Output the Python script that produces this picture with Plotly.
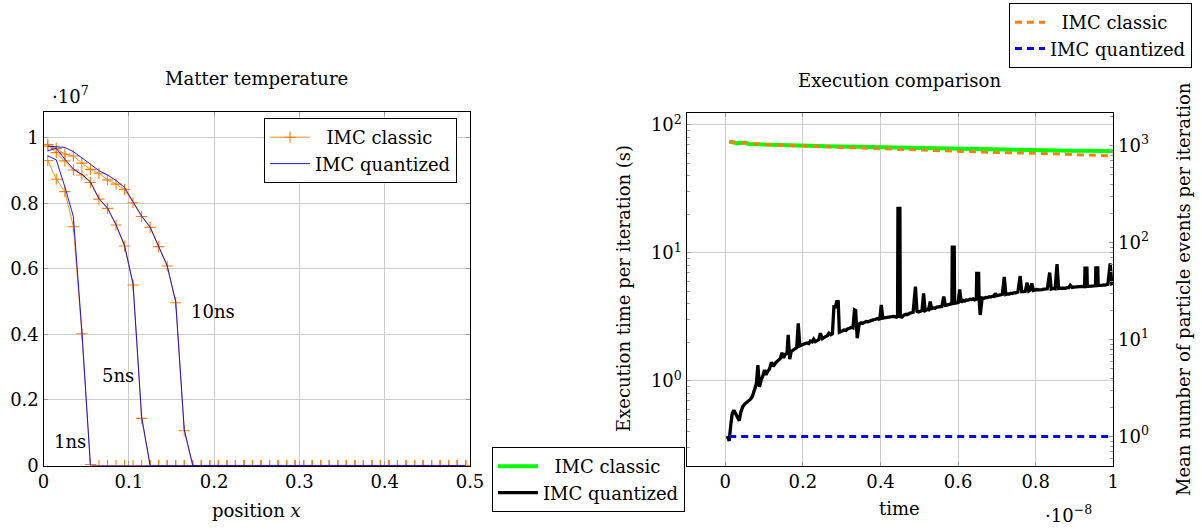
import plotly.graph_objects as go

# ---------------- Left chart: matter temperature (units of 1e7) ----------------
position = [0.005, 0.015, 0.025, 0.035, 0.045, 0.055, 0.065, 0.075, 0.085, 0.095,
            0.105, 0.115, 0.125, 0.135, 0.145, 0.155, 0.165, 0.175, 0.185, 0.195,
            0.205, 0.215, 0.225, 0.235, 0.245, 0.255, 0.265, 0.275, 0.285, 0.295,
            0.305, 0.315, 0.325, 0.335, 0.345, 0.355, 0.365, 0.375, 0.385, 0.395,
            0.405, 0.415, 0.425, 0.435, 0.445, 0.455, 0.465, 0.475, 0.485, 0.495]

classic_1ns = [0.931, 0.874, 0.836, 0.729, 0.402, 0.003, 0, 0, 0, 0,
               0, 0, 0, 0, 0, 0, 0, 0, 0, 0, 0, 0, 0, 0, 0, 0, 0, 0, 0, 0,
               0, 0, 0, 0, 0, 0, 0, 0, 0, 0, 0, 0, 0, 0, 0, 0, 0, 0, 0, 0]
classic_5ns = [0.980, 0.955, 0.930, 0.902, 0.887, 0.864, 0.813, 0.785, 0.734, 0.670,
               0.551, 0.144, 0, 0, 0, 0, 0, 0, 0, 0, 0, 0, 0, 0, 0, 0, 0, 0, 0, 0,
               0, 0, 0, 0, 0, 0, 0, 0, 0, 0, 0, 0, 0, 0, 0, 0, 0, 0, 0, 0]
classic_10ns = [0.975, 0.968, 0.951, 0.945, 0.923, 0.904, 0.892, 0.872, 0.859, 0.843,
                0.802, 0.760, 0.727, 0.668, 0.609, 0.497, 0.106, 0, 0, 0,
                0, 0, 0, 0, 0, 0, 0, 0, 0, 0, 0, 0, 0, 0, 0, 0, 0, 0, 0, 0,
                0, 0, 0, 0, 0, 0, 0, 0, 0, 0]

quant_1ns = [0.945, 0.933, 0.851, 0.760, 0.410, 0.0, 0, 0, 0, 0,
             0, 0, 0, 0, 0, 0, 0, 0, 0, 0, 0, 0, 0, 0, 0, 0, 0, 0, 0, 0,
             0, 0, 0, 0, 0, 0, 0, 0, 0, 0, 0, 0, 0, 0, 0, 0, 0, 0, 0, 0]
quant_5ns = [0.961, 0.968, 0.935, 0.905, 0.889, 0.866, 0.815, 0.786, 0.735, 0.672,
             0.555, 0.150, 0, 0, 0, 0, 0, 0, 0, 0, 0, 0, 0, 0, 0, 0, 0, 0, 0, 0,
             0, 0, 0, 0, 0, 0, 0, 0, 0, 0, 0, 0, 0, 0, 0, 0, 0, 0, 0, 0]
quant_10ns = [0.975, 0.972, 0.971, 0.958, 0.940, 0.920, 0.900, 0.887, 0.870, 0.849,
              0.805, 0.762, 0.728, 0.670, 0.610, 0.500, 0.110, 0, 0, 0,
              0, 0, 0, 0, 0, 0, 0, 0, 0, 0, 0, 0, 0, 0, 0, 0, 0, 0, 0, 0,
              0, 0, 0, 0, 0, 0, 0, 0, 0, 0]

snapshot_labels = ["1ns", "5ns", "10ns"]
snapshot_label_x = [0.031, 0.087, 0.199]
snapshot_label_y = [0.072, 0.275, 0.47]

# ---------------- Right chart: execution comparison (time in units of 1e-8) ----------------
t_classic = [0.01, 0.03, 0.05, 0.06, 0.08, 0.10, 0.14, 0.18, 0.22, 0.26, 0.30, 0.34,
             0.38, 0.42, 0.46, 0.50, 0.54, 0.58, 0.62, 0.66, 0.70, 0.74, 0.78, 0.82,
             0.86, 0.90, 0.94, 0.98, 1.00]
time_classic = [74.1, 71.9, 73.0, 71.1, 70.6, 70.2, 69.8, 69.4, 68.8, 68.2, 67.8, 67.4,
                67.0, 66.6, 66.2, 65.8, 65.3, 65.0, 64.8, 64.5, 64.2, 64.0, 63.8, 63.6,
                63.3, 63.0, 62.8, 62.5, 62.3]

t_events = [0.01, 0.05, 0.10, 0.20, 0.30, 0.40, 0.50, 0.60, 0.70, 0.80, 0.90, 1.00]
events_classic = [1099, 1070, 1030, 990, 960, 925, 895, 868, 850, 835, 808, 785]
events_quantized = [1, 1, 1, 1, 1, 1, 1, 1, 1, 1, 1, 1]

t_quant = [0.005, 0.010, 0.014, 0.018, 0.022, 0.027, 0.032, 0.036, 0.040, 0.045,
           0.050, 0.055, 0.060, 0.065, 0.070, 0.075, 0.080, 0.084, 0.088, 0.093,
           0.097, 0.101, 0.105, 0.110, 0.114, 0.119, 0.124, 0.129, 0.133, 0.138,
           0.142, 0.146, 0.150, 0.155, 0.159, 0.162, 0.166, 0.170, 0.175, 0.179,
           0.184, 0.188, 0.192, 0.197, 0.201, 0.206, 0.210, 0.215, 0.219, 0.224,
           0.228, 0.232, 0.237, 0.241, 0.245, 0.250, 0.254, 0.259, 0.263, 0.267,
           0.272, 0.276, 0.280, 0.284, 0.287, 0.291, 0.294, 0.298, 0.302, 0.306,
           0.311, 0.315, 0.320, 0.324, 0.329, 0.333, 0.336, 0.340, 0.345, 0.350,
           0.354, 0.358, 0.363, 0.367, 0.372, 0.376, 0.381, 0.385, 0.390, 0.394,
           0.398, 0.402, 0.406, 0.411, 0.415, 0.420, 0.424, 0.428, 0.433, 0.437,
           0.441, 0.444, 0.445, 0.450, 0.451, 0.455, 0.461, 0.466, 0.470, 0.475,
           0.479, 0.484, 0.490, 0.494, 0.498, 0.503, 0.507, 0.511, 0.515, 0.520,
           0.524, 0.528, 0.532, 0.537, 0.541, 0.545, 0.550, 0.554, 0.558, 0.563,
           0.567, 0.571, 0.576, 0.580, 0.584, 0.585, 0.590, 0.591, 0.595, 0.600,
           0.604, 0.608, 0.613, 0.617, 0.621, 0.626, 0.630, 0.634, 0.639, 0.643,
           0.647, 0.648, 0.653, 0.654, 0.657, 0.662, 0.667, 0.671, 0.676, 0.680,
           0.684, 0.689, 0.693, 0.696, 0.700, 0.705, 0.709, 0.714, 0.719, 0.723,
           0.727, 0.732, 0.736, 0.740, 0.745, 0.749, 0.754, 0.760, 0.764, 0.769,
           0.773, 0.778, 0.782, 0.786, 0.790, 0.794, 0.799, 0.803, 0.808, 0.812,
           0.816, 0.821, 0.825, 0.830, 0.836, 0.840, 0.845, 0.850, 0.855, 0.859,
           0.863, 0.868, 0.872, 0.877, 0.881, 0.885, 0.889, 0.894, 0.898, 0.902,
           0.907, 0.911, 0.915, 0.920, 0.926, 0.927, 0.932, 0.933, 0.937, 0.941,
           0.945, 0.950, 0.954, 0.955, 0.960, 0.961, 0.965, 0.968, 0.972, 0.977,
           0.981, 0.986, 0.992, 0.996, 1.000]
time_quantized = [0.37, 0.34, 0.45, 0.56, 0.59, 0.55, 0.51, 0.49, 0.57, 0.63,
                  0.66, 0.68, 0.70, 0.72, 0.76, 0.85, 0.95, 1.33, 0.90, 1.03,
                  1.10, 1.22, 1.12, 1.20, 1.24, 1.40, 1.30, 1.38, 1.42, 1.45,
                  1.50, 1.66, 1.52, 1.62, 1.64, 2.29, 1.48, 1.70, 1.74, 1.78,
                  1.82, 2.82, 1.88, 1.91, 1.93, 1.95, 1.98, 1.96, 2.05, 2.02,
                  2.12, 2.03, 2.08, 2.10, 2.36, 2.14, 2.18, 2.22, 2.26, 2.36,
                  2.30, 2.34, 3.80, 3.80, 4.17, 4.17, 2.40, 2.43, 2.46, 2.50,
                  2.48, 2.55, 2.58, 2.62, 2.60, 3.59, 3.55, 2.16, 2.80, 2.85,
                  2.82, 2.88, 2.92, 2.90, 2.95, 2.97, 3.00, 3.02, 3.05, 3.08,
                  3.00, 3.92, 3.10, 3.12, 3.15, 3.13, 3.18, 3.16, 3.20, 3.18,
                  3.15, 3.20, 22.3, 22.3, 3.18, 3.15, 3.28, 3.32, 3.30, 3.38,
                  3.40, 3.44, 5.45, 3.50, 3.46, 3.52, 3.55, 4.84, 3.55, 3.62,
                  3.60, 4.17, 3.68, 3.72, 3.70, 3.78, 3.80, 3.85, 3.82, 4.56,
                  3.90, 3.92, 3.98, 4.00, 4.02, 11.1, 11.1, 4.05, 4.05, 4.10,
                  5.20, 4.12, 4.25, 4.20, 4.30, 4.28, 4.35, 4.32, 4.38, 4.30,
                  4.35, 6.94, 6.94, 4.40, 3.28, 4.45, 4.42, 4.50, 4.48, 4.55,
                  4.52, 4.60, 4.58, 4.84, 4.65, 4.70, 4.68, 4.75, 6.50, 4.75,
                  4.80, 4.78, 4.85, 4.82, 4.90, 4.88, 4.95, 6.60, 4.98, 5.02,
                  5.00, 5.86, 5.05, 5.14, 5.80, 5.10, 5.15, 5.18, 5.15, 5.20,
                  5.18, 5.22, 5.20, 5.25, 7.03, 5.22, 5.28, 5.25, 8.20, 5.28,
                  5.30, 5.28, 5.32, 5.30, 5.38, 5.35, 5.60, 5.38, 5.40, 5.42,
                  5.40, 5.45, 5.43, 5.48, 5.46, 7.60, 7.60, 5.50, 5.48, 5.50,
                  5.52, 5.55, 5.54, 7.66, 7.66, 5.58, 5.56, 5.58, 5.60, 5.62,
                  5.65, 5.68, 8.30, 5.75, 5.80]

x_ticks_left = [0, 0.1, 0.2, 0.3, 0.4, 0.5]
x_ticktext_left = ["0", "0.1", "0.2", "0.3", "0.4", "0.5"]
y_ticks_left = [0, 0.2, 0.4, 0.6, 0.8, 1.0]
y_ticktext_left = ["0", "0.2", "0.4", "0.6", "0.8", "1"]
x_ticks_right = [0, 0.2, 0.4, 0.6, 0.8, 1.0]
x_ticktext_right = ["0", "0.2", "0.4", "0.6", "0.8", "1"]
time_ticks = [1, 10, 100]
time_ticktext = ["10<sup>0</sup>", "10<sup>1</sup>", "10<sup>2</sup>"]
event_ticks = [1, 10, 100, 1000]
event_ticktext = ["10<sup>0</sup>", "10<sup>1</sup>", "10<sup>2</sup>", "10<sup>3</sup>"]
time_minor = [0.3, 0.4, 0.5, 0.6, 0.7, 0.8, 0.9, 2, 3, 4, 5, 6, 7, 8, 9,
              20, 30, 40, 50, 60, 70, 80, 90]
event_minor = [0.6, 0.7, 0.8, 0.9, 2, 3, 4, 5, 6, 7, 8, 9, 20, 30, 40, 50, 60, 70, 80, 90,
               200, 300, 400, 500, 600, 700, 800, 900, 2000]

# ---------------- styling ----------------
W, H = 1202, 529
FONT = "DejaVu Serif"
FS = 18
ORANGE = "rgb(255,128,0)"
BLUE = "rgb(0,0,255)"
GREEN = "rgb(0,255,0)"
GRID = "#cccccc"
TICKC = "#9a9a9a"
NB = "\u00a0\u00a0"


def px_x(p):
    return p / W


def px_y(p):
    return 1 - p / H


fig = go.Figure()

for i, vals_c in enumerate([classic_1ns, classic_5ns, classic_10ns]):
    fig.add_trace(go.Scatter(
        x=position, y=vals_c, mode="lines+markers", name=NB + "IMC classic",
        line=dict(color=ORANGE, width=0.9),
        marker=dict(symbol="cross-thin", size=8, line=dict(color=ORANGE, width=1.1)),
        showlegend=(i == 0), legend="legend", xaxis="x", yaxis="y"))
for i, vals_q in enumerate([quant_1ns, quant_5ns, quant_10ns]):
    fig.add_trace(go.Scatter(
        x=position, y=vals_q, mode="lines", name="IMC quantized",
        line=dict(color=BLUE, width=0.9),
        showlegend=(i == 0), legend="legend", xaxis="x", yaxis="y"))

fig.add_trace(go.Scatter(x=t_classic, y=time_classic, mode="lines", name=NB + "IMC classic",
                         line=dict(color=GREEN, width=4), legend="legend2",
                         xaxis="x2", yaxis="y2"))
fig.add_trace(go.Scatter(x=t_quant, y=time_quantized, mode="lines", name="IMC quantized",
                         line=dict(color="black", width=3.3), legend="legend2",
                         xaxis="x2", yaxis="y2"))
fig.add_trace(go.Scatter(x=t_events, y=events_classic, mode="lines", name=NB + "IMC classic",
                         line=dict(color=ORANGE, width=3, dash="7px,5px"), legend="legend3",
                         xaxis="x2", yaxis="y3"))
fig.add_trace(go.Scatter(x=t_events, y=events_quantized, mode="lines", name="IMC quantized",
                         line=dict(color=BLUE, width=3, dash="7px,5px"), legend="legend3",
                         xaxis="x2", yaxis="y3"))

TICKFONT = dict(family=FONT, size=FS, color="black")
axis_common = dict(showline=True, linecolor="black", linewidth=1.2,
                   ticks="inside", ticklen=4, tickcolor=TICKC, tickwidth=1,
                   showgrid=True, gridcolor=GRID, gridwidth=1, zeroline=False,
                   automargin=False, tickfont=TICKFONT)

L_X0, L_X1 = 43.5, 470.0
L_Y0, L_Y1 = 111.7, 465.5
R_X0, R_X1 = 686.5, 1113.3
R_Y0, R_Y1 = 112.7, 465.7

LEG = dict(xanchor="left", yanchor="top", bgcolor="white", bordercolor="black",
           borderwidth=1, font=dict(family=FONT, size=FS, color="black"))

fig.update_layout(
    width=W, height=H, autosize=False,
    margin=dict(l=0, r=0, t=0, b=0, pad=0, autoexpand=False),
    paper_bgcolor="white", plot_bgcolor="white",
    font=dict(family=FONT, size=FS, color="black"),
    xaxis=dict(domain=[px_x(L_X0), px_x(L_X1)], range=[0, 0.5], anchor="y",
               tickvals=x_ticks_left, ticktext=x_ticktext_left, mirror="ticks",
               **axis_common),
    yaxis=dict(domain=[px_y(L_Y1), px_y(L_Y0)], range=[0, 1.08], anchor="x",
               tickvals=y_ticks_left, ticktext=y_ticktext_left, mirror="ticks",
               **axis_common),
    xaxis2=dict(domain=[px_x(R_X0), px_x(R_X1)], range=[-0.1, 1.0], anchor="y2",
                tickvals=x_ticks_right, ticktext=x_ticktext_right, mirror="ticks",
                **axis_common),
    yaxis2=dict(domain=[px_y(R_Y1), px_y(R_Y0)], type="log", range=[-0.662, 2.096],
                anchor="x2", side="left", tickvals=time_ticks, ticktext=time_ticktext,
                minor=dict(tickvals=time_minor, ticks="inside", ticklen=3,
                           tickcolor=TICKC, showgrid=False),
                **axis_common),
    yaxis3=dict(type="log", range=[-0.30, 3.34], anchor="x2", overlaying="y2",
                side="right", tickvals=event_ticks, ticktext=event_ticktext,
                minor=dict(tickvals=event_minor, ticks="inside", ticklen=3,
                           tickcolor=TICKC, showgrid=False),
                showline=True, linecolor="black", linewidth=1.2,
                ticks="inside", ticklen=4, tickcolor=TICKC, showgrid=False,
                zeroline=False, automargin=False, tickfont=TICKFONT),
    legend=dict(x=px_x(264), y=px_y(118), itemwidth=40, **LEG),
    legend2=dict(x=px_x(492), y=px_y(447), itemwidth=40, **LEG),
    legend3=dict(x=px_x(1009), y=px_y(3), itemwidth=30, **LEG),
)


def note(text, x, y, **kw):
    d = dict(text=text, x=px_x(x), y=px_y(y), xref="paper", yref="paper",
             showarrow=False, xanchor="center", yanchor="middle",
             font=dict(family=FONT, size=FS, color="black"))
    d.update(kw)
    return d


ann = [
    note("Matter temperature", (L_X0 + L_X1) / 2, 79),
    note("Execution comparison", (R_X0 + R_X1) / 2, 80),
    note("\u00b710<sup>7</sup>", 50, 95, xanchor="left"),
    note("\u00b710<sup>\u22128</sup>", 1043, 514, xanchor="left"),
    note("position <i>x</i>", (L_X0 + L_X1) / 2, 510),
    note("time", (R_X0 + R_X1) / 2, 508),
    note("Execution time per iteration (s)", 623, 289, textangle=-90),
    note("Mean number of particle events per iteration", 1183, 289, textangle=-90),
]
for lab, lx, ly in zip(snapshot_labels, snapshot_label_x, snapshot_label_y):
    ann.append(dict(text=lab, x=lx, y=ly, xref="x", yref="y", showarrow=False,
                    xanchor="center", yanchor="middle",
                    font=dict(family=FONT, size=FS, color="black")))
fig.update_layout(annotations=ann)

fig.write_html("out.html", config={"displayModeBar": False},
               post_script="document.body.style.margin='0';document.body.style.overflow='hidden';")
